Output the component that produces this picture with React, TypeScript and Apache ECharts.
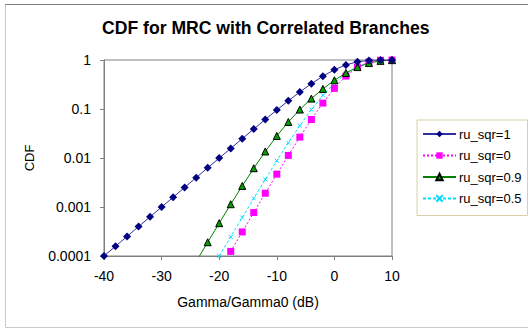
import React, { useEffect, useRef } from "react";
import * as echarts from "echarts";

const gammaDb = [-40, -38, -36, -34, -32, -30, -28, -26, -24, -22, -20, -18, -16, -14, -12, -10, -8, -6, -4, -2, 0, 2, 4, 6, 8, 10];

const ruSqr1 = [0.0001, 0.000158, 0.000251, 0.000398, 0.000631, 0.001, 0.00158, 0.00251, 0.00397, 0.00629, 0.00995, 0.0157, 0.0248, 0.039, 0.0611, 0.0952, 0.147, 0.222, 0.328, 0.468, 0.632, 0.795, 0.919, 0.981, 0.998, 1.0];
const ruSqr0 = [null, null, null, null, null, null, null, null, null, null, null, 0.000124, 0.00031, 0.000771, 0.00191, 0.00468, 0.0113, 0.0267, 0.061, 0.132, 0.264, 0.47, 0.715, 0.907, 0.987, 0.9995];
const ruSqr09 = [null, null, null, null, null, null, null, null, 0.0000771, 0.000191, 0.000468, 0.00114, 0.00269, 0.00618, 0.0136, 0.0282, 0.0544, 0.0974, 0.163, 0.257, 0.385, 0.545, 0.717, 0.867, 0.96, 0.994];
const ruSqr05 = [null, null, null, null, null, null, null, null, null, null, 0.0001, 0.000246, 0.00061, 0.0015, 0.00366, 0.00878, 0.0205, 0.0459, 0.0971, 0.19, 0.335, 0.524, 0.723, 0.883, 0.97, 0.9966];

const seriesNames = ["ru_sqr=1", "ru_sqr=0", "ru_sqr=0.9", "ru_sqr=0.5"];
const yTickLabels = ["0.0001", "0.001", "0.01", "0.1", "1"];

const FONT = "'Liberation Sans', Arial, sans-serif";

export default function App() {
  const ref = useRef<HTMLDivElement>(null);
  useEffect(() => {
    if (!ref.current) return;
    const chart = echarts.init(ref.current, undefined, { renderer: "svg" });
    const pair = (arr: (number | null)[]) => gammaDb.map((g, i) => [g, arr[i]]);
    chart.setOption({
      animation: false,
      backgroundColor: "#ffffff",
      textStyle: { fontFamily: FONT },
      title: {
        text: "CDF for MRC with Correlated Branches",
        left: 102,
        top: 19,
        padding: 0,
        textStyle: { fontFamily: FONT, fontSize: 17.6, fontWeight: "bold", color: "#000" },
      },
      graphic: [
        { type: "rect", shape: { x: 5.5, y: 4.5, width: 540, height: 323 }, style: { fill: "none", stroke: "#c8c8d0", lineWidth: 1 }, silent: true },
        { type: "line", shape: { x1: 5, y1: 4.5, x2: 528, y2: 4.5 }, style: { stroke: "#808080", lineWidth: 1 }, silent: true },
      ],
      legend: {
        orient: "vertical",
        left: 417,
        top: 120,
        padding: [7, 6, 10, 5],
        itemWidth: 33,
        itemHeight: 8,
        itemGap: 7.5,
        borderColor: "#d8d0a8",
        borderWidth: 1,
        borderRadius: 0,
        textStyle: { fontFamily: FONT, fontSize: 13, color: "#000", lineHeight: 14, padding: [0, 0, 0, -2] },
        data: seriesNames,
      },
      grid: { left: 104, top: 60, width: 288, height: 196, containLabel: false, show: true, borderColor: "#808080", borderWidth: 1 },
      xAxis: {
        type: "value",
        min: -40,
        max: 10,
        interval: 10,
        name: "Gamma/Gamma0 (dB)",
        nameLocation: "middle",
        nameGap: 39,
        nameTextStyle: { fontFamily: FONT, fontSize: 14, color: "#000" },
        axisLine: { show: true, onZero: false, lineStyle: { color: "#808080", width: 1 } },
        axisTick: { show: true, inside: false, length: 4, lineStyle: { color: "#808080" } },
        axisLabel: { fontFamily: FONT, fontSize: 14, color: "#000", margin: 13 },
        splitLine: { show: false },
      },
      yAxis: {
        type: "log",
        logBase: 10,
        min: 0.0001,
        max: 1,
        name: "CDF",
        nameLocation: "middle",
        nameGap: 68,
        nameRotate: 90,
        nameTextStyle: { fontFamily: FONT, fontSize: 13, color: "#000" },
        axisLine: { show: true, onZero: false, lineStyle: { color: "#808080", width: 1 } },
        axisTick: { show: true, inside: false, length: 4, lineStyle: { color: "#808080" } },
        axisLabel: {
          fontFamily: FONT,
          fontSize: 14,
          color: "#000",
          margin: 13,
          formatter: (v: number) => yTickLabels[Math.round(Math.log10(v)) + 4],
        },
        splitLine: { show: false },
      },
      series: [
        {
          name: seriesNames[0],
          type: "line",
          data: pair(ruSqr1),
          symbol: "diamond",
          symbolSize: 8,
          itemStyle: { color: "#000080" },
          lineStyle: { color: "#3030a0", width: 1, type: "solid" },
          clip: true,
          z: 4,
        },
        {
          name: seriesNames[1],
          type: "line",
          data: pair(ruSqr0),
          symbol: "rect",
          symbolSize: 7,
          itemStyle: { color: "#ff00ff" },
          lineStyle: { color: "#ff00ff", width: 1, type: [2, 2] },
          clip: true,
          z: 3,
        },
        {
          name: seriesNames[2],
          type: "line",
          data: pair(ruSqr09),
          symbol: "triangle",
          symbolSize: 7,
          itemStyle: { color: "#00a000", borderColor: "#000", borderWidth: 1 },
          lineStyle: { color: "#008000", width: 1, type: "solid" },
          clip: true,
          z: 3,
        },
        {
          name: seriesNames[3],
          type: "line",
          data: pair(ruSqr05),
          symbol: "path://M0,0L4,4M4,0L0,4",
          symbolSize: 4,
          itemStyle: { color: "none", borderColor: "#00d8ff", borderWidth: 1 },
          lineStyle: { color: "#00e0ff", width: 1, type: [3, 2] },
          clip: true,
          z: 2,
        },
      ],
    });
    return () => chart.dispose();
  }, []);
  return <div ref={ref} style={{ position: "fixed", left: 0, top: 0, width: 528, height: 329 }} />;
}
